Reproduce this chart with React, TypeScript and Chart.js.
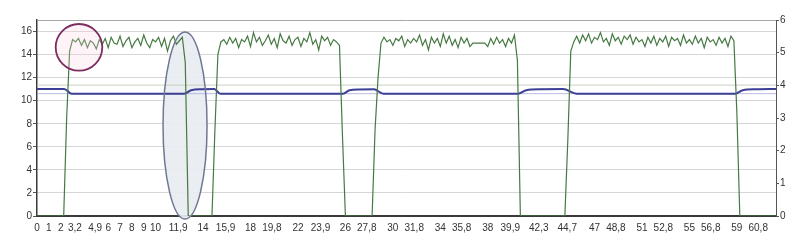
import React, { useEffect, useRef } from "react";
import { Chart, registerables } from "chart.js";

Chart.register(...registerables);

// Sample spacing of the green trace (time units per sample)
const STEP = 0.25;

// Green trace (left axis), one value per sample, null = missing sample
const greenValues: (number | null)[] = [
  // t 0 .. 2.75
  0, 0, 0, 0, 0, 0, 0, 0, 0, 0, 8.5, 14.3,
  // on period 1 (t 3.0 .. 12.25)
  15.3, 15.1, 15.4, 14.8, 15.3, 14.6, 15.2, 15.0, 14.5, 15.3, 14.9, 15.4, 14.6, 15.5, 15.0, 14.9, 15.6, 14.7, 15.2, 15.5,
  14.6, 15.1, 15.4, 14.8, 15.7, 15.0, 14.6, 15.3, 15.1, 15.5, 14.7, 15.4, 14.3, 15.2, 15.6, 14.9, 15.2, 15.5,
  13.3,
  // off
  0, 0, 0, 0, 0, 0, 0, 0, 0,
  7.5, 14.0,
  // on period 2 (t 15.5 .. 25.5)
  15.1, 15.3, 14.9, 15.5, 15.0, 15.4, 14.6, 15.3, 15.1, 15.6, 14.7, 15.9, 15.1, 15.5, 14.8, 15.2, 15.7, 14.9, 15.4, 14.6,
  15.8, 15.2, 15.0, 15.6, 14.8, 15.3, 15.5, 14.7, 15.4, 15.1, 15.9, 14.9, 15.3, 14.4, 15.6, 15.2, 15.5, 14.8, 15.3, 15.1,
  14.8,
  7.0,
  // off
  0, 0, 0, 0, 0, 0, 0, 0, 0, 0,
  7.5, 12.0,
  // on period 3 (t 29.0 .. 40.25)
  15.0, 15.5, 15.1, 15.3, 14.8, 15.4, 15.2, 15.6, 14.7, 15.3, 15.0, 15.4, 15.1, 15.7, 14.8, 15.3, 14.4, 15.5, 15.0, 15.4,
  14.7, 15.8, 15.0, 15.6, 14.8, 15.3, 14.6, 15.5, 15.0, 15.4, 14.7, 15.0, null, null, null, 15.0, 14.7, 15.4, 14.9, 15.5,
  15.0, 15.3, 14.7, 15.4, 15.0, 15.7,
  13.5,
  // off
  0, 0, 0, 0, 0, 0, 0, 0, 0, 0, 0, 0, 0, 0, 0, 0,
  6.6, 14.3,
  // on period 4 (t 45.25 .. 58.75)
  15.1, 15.6, 15.0, 15.7, 15.2, 15.8, 15.0, 15.5, 15.3, 15.9, 15.1, 15.4, 14.8, 15.8, 15.2, 15.5, 14.9, 15.6, 15.3, 15.7,
  14.9, 15.5, 15.1, 15.3, 14.7, 15.5, 15.0, 15.6, 14.8, 15.4, 15.1, 15.6, 14.7, 15.5, 15.2, 15.4, 14.8, 15.7, 15.0, 15.3,
  14.9, 15.6, 15.0, 15.4, 14.6, 15.5, 15.1, 15.3, 14.8, 15.5, 15.0, 15.4, 14.7, 15.6, 15.2,
  9.0,
  // off to the end
  0, 0, 0, 0, 0, 0, 0, 0, 0, 0, 0, 0, 0,
];

// Blue trace (right axis), read as breakpoints
const blueTimes = [0, 2.3, 2.9, 12.4, 13.0, 13.9, 14.95, 15.45, 25.8, 26.35, 27.2, 28.4, 29.2, 40.55, 41.25, 42.5, 44.35, 45.5, 58.85, 59.5, 60.65, 62.3];
const blueValues = [3.89, 3.89, 3.745, 3.745, 3.85, 3.88, 3.885, 3.745, 3.745, 3.85, 3.875, 3.88, 3.745, 3.745, 3.85, 3.88, 3.885, 3.745, 3.745, 3.85, 3.88, 3.89];

// Faint horizontal reference lines
const refLeftLevel = 11.35; // left axis
const refRightLevel = 3.745; // right axis

// Axis ticks
const xTickValues = [0, 1, 2, 3.2, 4.9, 6, 7, 8, 9, 10, 11.9, 14, 15.9, 18, 19.8, 22, 23.9, 26, 27.8, 30, 31.8, 34, 35.8, 38, 39.9, 42.3, 44.7, 47, 48.8, 51, 52.8, 55, 56.8, 59, 60.8];
const leftTickValues = [0, 2, 4, 6, 8, 10, 12, 14, 16];
const rightTickValues = [0, 1, 2, 3, 4, 5, 6];
const X_MAX = 62.3;
const LEFT_MAX = 17;
const RIGHT_MAX = 6;

// Annotation anchors in data units
const circleAnchor = { x: 3.54, y: 14.63 };
const ellipseAnchor = { x: 12.48, y: 7.85 };

const FONT = { family: "'Liberation Sans', Arial, sans-serif", size: 10 };

const annotations = {
  id: "annotations",
  beforeDatasetsDraw(chart: any) {
    const { ctx, scales } = chart;
    const cx = scales.x.getPixelForValue(ellipseAnchor.x);
    const cy = scales.y.getPixelForValue(ellipseAnchor.y);
    ctx.save();
    ctx.beginPath();
    ctx.ellipse(cx, cy, 22, 93.5, 0, 0, Math.PI * 2);
    ctx.fillStyle = "rgba(232,236,241,0.92)";
    ctx.fill();
    ctx.restore();
  },
  afterDatasetsDraw(chart: any) {
    const { ctx, scales } = chart;
    ctx.save();
    const ex = scales.x.getPixelForValue(ellipseAnchor.x);
    const ey = scales.y.getPixelForValue(ellipseAnchor.y);
    ctx.beginPath();
    ctx.ellipse(ex, ey, 22, 93.5, 0, 0, Math.PI * 2);
    ctx.strokeStyle = "#6f7893";
    ctx.lineWidth = 1.5;
    ctx.stroke();

    const cx = scales.x.getPixelForValue(circleAnchor.x);
    const cy = scales.y.getPixelForValue(circleAnchor.y);
    ctx.beginPath();
    ctx.arc(cx, cy, 23.3, 0, Math.PI * 2);
    ctx.fillStyle = "rgba(252,212,228,0.25)";
    ctx.fill();
    ctx.strokeStyle = "#7b2d5f";
    ctx.lineWidth = 1.8;
    ctx.stroke();
    ctx.restore();
  },
  afterDraw(chart: any) {
    const { ctx, chartArea } = chart;
    ctx.save();
    ctx.strokeStyle = "#a8a8a8";
    ctx.lineWidth = 1;
    ctx.beginPath();
    ctx.moveTo(chartArea.left, chartArea.top + 0.5);
    ctx.lineTo(chartArea.right, chartArea.top + 0.5);
    ctx.stroke();
    ctx.restore();
  },
};

export default function App() {
  const ref = useRef<HTMLCanvasElement | null>(null);

  useEffect(() => {
    if (!ref.current) return;
    const greenPoints = greenValues.map((v, i) => ({ x: i * STEP, y: v }));
    const bluePoints = blueTimes.map((t, i) => ({ x: t, y: blueValues[i] }));

    const chart = new Chart(ref.current, {
      type: "line",
      data: {
        datasets: [
          {
            data: greenPoints as any,
            borderColor: "#467a42",
            borderWidth: 1.2,
            pointRadius: 0,
            spanGaps: true,
            yAxisID: "y",
          },
          {
            data: bluePoints as any,
            borderColor: "#3d3f96",
            borderWidth: 2,
            pointRadius: 0,
            cubicInterpolationMode: "monotone",
            yAxisID: "y1",
          },
          {
            data: [{ x: 0, y: refRightLevel }, { x: X_MAX, y: refRightLevel }] as any,
            borderColor: "rgba(170,170,225,0.8)",
            borderWidth: 1,
            pointRadius: 0,
            yAxisID: "y1",
          },
          {
            data: [{ x: 0, y: refLeftLevel }, { x: X_MAX, y: refLeftLevel }] as any,
            borderColor: "rgba(195,205,185,0.9)",
            borderWidth: 1,
            pointRadius: 0,
            yAxisID: "y",
          },
        ],
      },
      options: {
        responsive: false,
        animation: false,
        events: [],
        layout: { padding: { top: 20, left: 0, right: 0, bottom: 0 } },
        plugins: { legend: { display: false }, tooltip: { enabled: false } },
        scales: {
          x: {
            type: "linear",
            min: 0,
            max: X_MAX,
            afterBuildTicks: (s: any) => {
              s.ticks = xTickValues.map((v) => ({ value: v }));
            },
            afterFit: (s: any) => {
              s.height = 26;
            },
            grid: { display: false, drawTicks: false },
            border: { display: true, color: "#3a3a3a", width: 2 },
            ticks: {
              autoSkip: false,
              maxRotation: 0,
              minRotation: 0,
              padding: 6,
              color: "#333",
              font: FONT,
              callback: (v: any) => String(v).replace(".", ","),
            },
          },
          y: {
            type: "linear",
            position: "left",
            min: 0,
            max: LEFT_MAX,
            afterBuildTicks: (s: any) => {
              s.ticks = leftTickValues.map((v) => ({ value: v }));
            },
            afterFit: (s: any) => {
              s.width = 37;
            },
            grid: { color: "#d6d6d6", lineWidth: 1, tickLength: 4, tickColor: "#555" },
            border: { display: true, color: "#3a3a3a", width: 1.5 },
            ticks: { padding: 1, color: "#333", font: FONT },
          },
          y1: {
            type: "linear",
            position: "right",
            min: 0,
            max: RIGHT_MAX,
            afterBuildTicks: (s: any) => {
              s.ticks = rightTickValues.map((v) => ({ value: v }));
            },
            afterFit: (s: any) => {
              s.width = 24;
            },
            grid: { drawOnChartArea: false, tickLength: 3, tickColor: "#555" },
            border: { display: true, color: "#555", width: 1 },
            ticks: { padding: 1, color: "#333", font: FONT },
          },
        },
      },
      plugins: [annotations],
    });
    return () => chart.destroy();
  }, []);

  return (
    <div style={{ position: "absolute", left: 0, top: 0, width: 800, height: 242, background: "#fff" }}>
      <canvas ref={ref} width={800} height={242} style={{ display: "block" }} />
    </div>
  );
}
